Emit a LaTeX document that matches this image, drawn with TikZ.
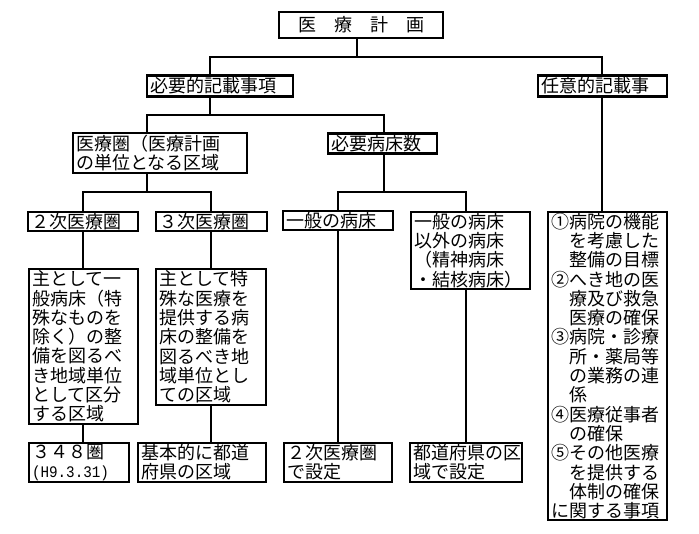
\documentclass[tikz,border=0pt]{standalone}
\usepackage{fontspec}
\newfontfamily\jpfont{Noto Sans CJK JP}
\newfontfamily\monofont{Liberation Mono}
\begin{document}
\begin{tikzpicture}[x=1pt,y=-1pt,
  box/.style={draw, line width=2.4pt, inner xsep=3pt, inner ysep=0pt, align=left,
    font=\jpfont\fontsize{18}{19.3}\selectfont},
  link/.style={line width=2.4pt, line join=miter}]
\path[fill=white] (0,0) rectangle (699,534);

% Top level
\node[box, text width=158pt, minimum height=26pt, align=center] (plan) at (361,25) {医　療　計　画};
\node[box, text width=140pt, minimum height=21pt] (req) at (220,86) {必要的記載事項};
\node[box, text width=123pt, minimum height=21pt] (opt) at (602.5,86) {任意的記載事};

% Required items
\node[box, text width=168pt, minimum height=40pt] (area) at (160,153) {医療圏（医療計画\\の単位となる区域};
\node[box, text width=103pt, minimum height=20pt] (beds) at (382.5,143.5) {必要病床数};

% Second row
\node[box, text width=104pt, minimum height=19pt] (sec) at (83,221.5) {２次医療圏};
\node[box, text width=105pt, minimum height=19pt] (ter) at (211.5,221.5) {３次医療圏};
\node[box, text width=104pt, minimum height=19pt] (gen) at (338,220.5) {一般の病床};
\node[box, text width=113pt, minimum height=77pt] (oth) at (470.5,250.5) {一般の病床\\以外の病床\\（精神病床\\・結核病床）};
\node[box, text width=113pt, minimum height=308pt] (list) at (607.5,366) {①病院の機能\\　を考慮した\\　整備の目標\\②へき地の医\\　療及び救急\\　医療の確保\\③病院・診療\\　所・薬局等\\　の業務の連\\　係\\④医療従事者\\　の確保\\⑤その他医療\\　を提供する\\　体制の確保\\に関する事項};

% Descriptions
\node[box, text width=103pt, minimum height=155pt] (secd) at (83.5,346.5) {主として一\\般病床（特\\殊なものを\\除く）の整\\備を図るべ\\き地域単位\\として区分\\する区域};
\node[box, text width=104pt, minimum height=136pt] (terd) at (211,337) {主として特\\殊な医療を\\提供する病\\床の整備を\\図るべき地\\域単位とし\\ての区域};

% Bottom row
\node[box, text width=94pt, minimum height=39pt] (b1) at (79,462.5) {３４８圏\\\resizebox*{77pt}{15pt}{\monofont (H9.3.31)}};
\node[box, text width=122pt, minimum height=39pt] (b2) at (202,462.5) {基本的に都道\\府県の区域};
\node[box, text width=102pt, minimum height=39pt] (b3) at (338,462.5) {２次医療圏\\で設定};
\node[box, text width=106pt, minimum height=39pt] (b4) at (466,462.5) {都道府県の区\\域で設定};

% Junctions
\coordinate (j0) at (357,57);
\coordinate (j0l) at (210,57);
\coordinate (j0r) at (602,57);
\coordinate (j1) at (210,115);
\coordinate (j1l) at (147,115);
\coordinate (j1r) at (384,115);
\coordinate (j2) at (147,192);
\coordinate (j2l) at (83,192);
\coordinate (j2r) at (211,192);
\coordinate (j3) at (384,192);
\coordinate (j3l) at (338,192);
\coordinate (j3r) at (466,192);

% Connectors
\draw[link] (j0 |- plan.south) -- (j0);
\draw[link] (j0l |- req.north) -- (j0l) -- (j0r) -- (j0r |- opt.north);
\draw[link] (j0r |- opt.south) -- (j0r |- list.north);
\draw[link] (j1 |- req.south) -- (j1);
\draw[link] (j1l |- area.north) -- (j1l) -- (j1r) -- (j1r |- beds.north);
\draw[link] (j2 |- area.south) -- (j2);
\draw[link] (j2l |- sec.north) -- (j2l) -- (j2r) -- (j2r |- ter.north);
\draw[link] (j3 |- beds.south) -- (j3);
\draw[link] (j3l |- gen.north) -- (j3l) -- (j3r) -- (j3r |- oth.north);
\draw[link] (j2l |- sec.south) -- (j2l |- secd.north);
\draw[link] (j2l |- secd.south) -- (j2l |- b1.north);
\draw[link] (j2r |- ter.south) -- (j2r |- terd.north);
\draw[link] (j2r |- terd.south) -- (j2r |- b2.north);
\draw[link] (j3l |- gen.south) -- (j3l |- b3.north);
\draw[link] (j3r |- oth.south) -- (j3r |- b4.north);

\end{tikzpicture}
\end{document}
